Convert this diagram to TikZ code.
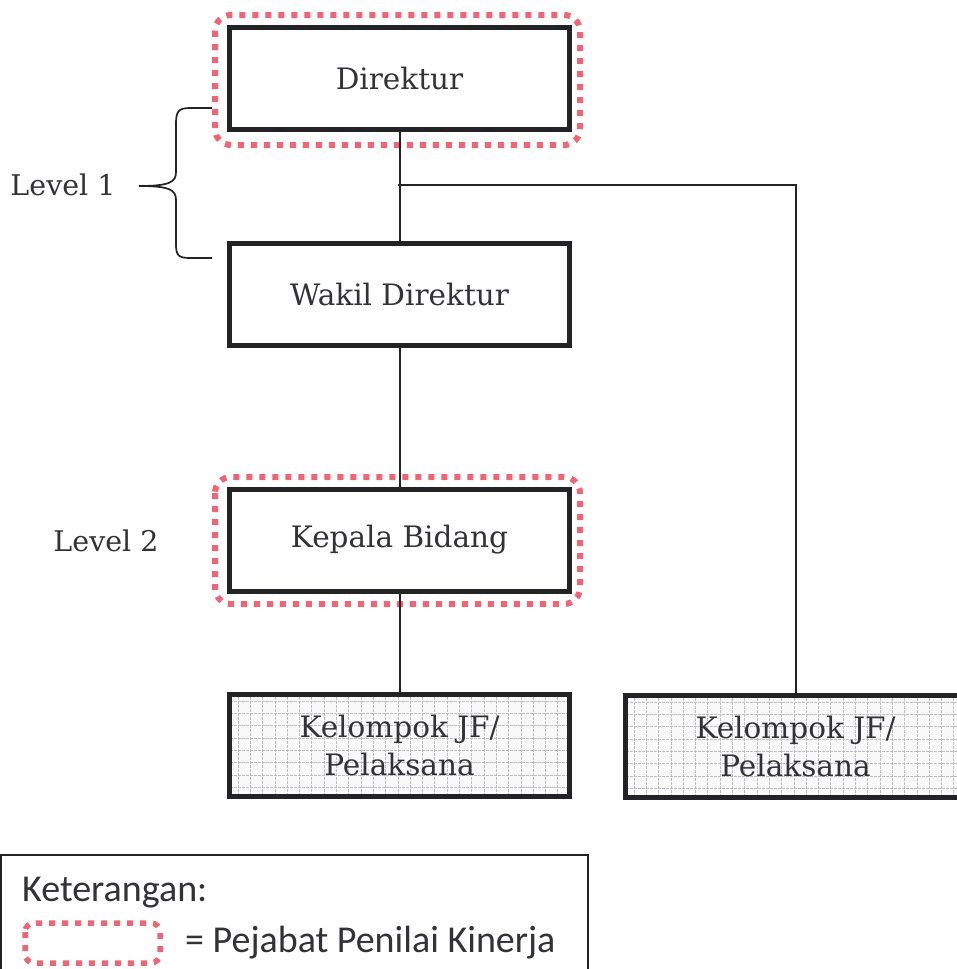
\documentclass[tikz,border=0pt]{standalone}
\usepackage{fontspec}
\setmainfont{DejaVu Serif}
\newfontfamily\legendfont{Carlito}
\definecolor{ppk}{RGB}{240,100,115}
\definecolor{txt}{RGB}{50,50,55}
\definecolor{edge}{RGB}{35,35,38}
\begin{document}
\begin{tikzpicture}[x=1pt,y=-1pt,
 box/.style={draw=edge, line width=5pt, fill=white, minimum width=340pt, minimum height=102pt,
   inner sep=0pt, text=txt, font=\fontsize{29.5}{38}\selectfont, align=center},
 jfbox/.style={box, fill=gray!5, path picture={\draw[gray!50, line width=0.7pt, dash pattern=on 3pt off 1pt]
   (path picture bounding box.south west) grid[step=12.3pt] (path picture bounding box.north east);}},
 ppkring/.style={draw=ppk, line width=6pt, dash pattern=on 6pt off 7pt, rounded corners=16pt},
 conn/.style={draw=edge, line width=2pt},
 lbl/.style={text=txt, font=\fontsize{28.5}{32}\selectfont},
 leg/.style={text=txt, font=\legendfont\fontsize{38}{42}\selectfont, inner sep=0pt}]
\useasboundingbox (0,0) rectangle (957,969);
\clip (0,0) rectangle (957,969);
\fill[white] (0,0) rectangle (957,969);

% boxes
\node[box] (dir) at (399.5,78.5) {Direktur};
\node[box] (wakil) at (399.5,294) {Wakil Direktur};
\node[box] (kabid) at (399.5,540) {Kepala Bidang};
\node[jfbox] (jf1) at (399.5,745) {Kelompok JF/\\Pelaksana};
\node[jfbox] (jf2) at (795.5,746) {Kelompok JF/\\Pelaksana};

% PPK dotted rings
\draw[ppkring] (215,15) rectangle (580,145);
\draw[ppkring] (215,477) rectangle (580,604);

% connectors
\coordinate (br) at (398,185);
\draw[conn] (dir.south) -- (wakil.north);
\draw[conn] (br) -| (jf2.north);
\draw[conn] (wakil.south) -- (kabid.north);
\draw[conn] (kabid.south) -- (jf1.north);

% level labels and brace
\node[lbl] (lv1) at (63,185) {Level 1};
\node[lbl] (lv2) at (106,541) {Level 2};
\coordinate (bt) at (212,108);
\coordinate (bb) at (212,258);
\coordinate (tip) at (139,186);
\draw[conn, line width=1.7pt] (bt) -- (190,108) .. controls (178,108) and (176,112) .. (176,124)
  -- (176,172) .. controls (176,182) and (170,186) .. (tip)
  .. controls (170,186) and (176,190) .. (176,200)
  -- (176,244) .. controls (176,255) and (178,258) .. (190,258) -- (bb);

% legend
\draw[edge, line width=1.5pt] (1,855) rectangle (588,985);
\node[leg, anchor=base west] (ket) at (22,901) {Keterangan:};
\draw[ppkring, line width=5.5pt, rounded corners=9pt] (25,923) rectangle (160,963);
\node[leg, anchor=base west] (ppktxt) at (185,952) {= Pejabat Penilai Kinerja};
\end{tikzpicture}
\end{document}
